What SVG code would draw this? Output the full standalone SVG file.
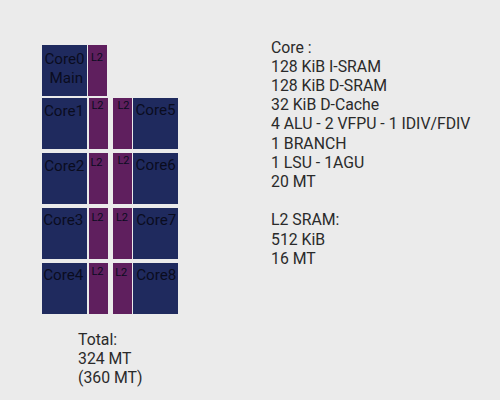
<svg xmlns="http://www.w3.org/2000/svg" width="500" height="400" viewBox="0 0 500 400">
<style>
.core{fill:#1f2a5e}
.l2{fill:#5f1f5e}
.cl{font-family:Roboto,"Liberation Sans",sans-serif;font-size:15.2px;fill:#0a0c1e;text-anchor:middle}
.ll{font-family:Roboto,"Liberation Sans",sans-serif;font-size:11px;fill:#0a0c1e;text-anchor:middle}
.info{font-family:Roboto,"Liberation Sans",sans-serif;font-size:15.8px;fill:#2a2a2a}
</style>
<rect width="500" height="400" fill="#ebebeb"/>
<g id="core0"><rect class="core" x="42" y="45" width="45" height="51"/><text class="cl" x="64.5" y="64">Core0</text><text class="cl" x="66.4" y="83">Main</text></g>
<g id="l2-0"><rect class="l2" x="88" y="45" width="19" height="51"/><text class="ll" x="97" y="61">L2</text></g>
<g id="core1"><rect class="core" x="42" y="98" width="45" height="51"/><text class="cl" x="64" y="116">Core1</text></g>
<g id="l2-1"><rect class="l2" x="89" y="98" width="19" height="51"/><text class="ll" x="97.5" y="109">L2</text></g>
<g id="l2-5"><rect class="l2" x="113" y="98" width="19" height="51"/><text class="ll" x="123.5" y="109">L2</text></g>
<g id="core5"><rect class="core" x="133" y="98" width="45" height="51"/><text class="cl" x="155.5" y="115">Core5</text></g>
<g id="core2"><rect class="core" x="42" y="153" width="45" height="51"/><text class="cl" x="64.3" y="171">Core2</text></g>
<g id="l2-2"><rect class="l2" x="89" y="153" width="19" height="51"/><text class="ll" x="96.5" y="166">L2</text></g>
<g id="l2-6"><rect class="l2" x="113" y="153" width="19" height="51"/><text class="ll" x="123.5" y="164">L2</text></g>
<g id="core6"><rect class="core" x="133" y="153" width="45" height="51"/><text class="cl" x="155.7" y="170">Core6</text></g>
<g id="core3"><rect class="core" x="42" y="208" width="45" height="51"/><text class="cl" x="63.3" y="225">Core3</text></g>
<g id="l2-3"><rect class="l2" x="89" y="208" width="19" height="51"/><text class="ll" x="97.5" y="221">L2</text></g>
<g id="l2-7"><rect class="l2" x="113" y="208" width="19" height="51"/><text class="ll" x="122" y="221">L2</text></g>
<g id="core7"><rect class="core" x="133" y="208" width="45" height="51"/><text class="cl" x="156.3" y="225">Core7</text></g>
<g id="core4"><rect class="core" x="42" y="263" width="45" height="51"/><text class="cl" x="63.3" y="280">Core4</text></g>
<g id="l2-4"><rect class="l2" x="89" y="263" width="19" height="51"/><text class="ll" x="97.5" y="275">L2</text></g>
<g id="l2-8"><rect class="l2" x="113" y="263" width="19" height="51"/><text class="ll" x="121.2" y="275.5">L2</text></g>
<g id="core8"><rect class="core" x="133" y="263" width="45" height="51"/><text class="cl" x="156.3" y="280">Core8</text></g>
<g id="connectors"/>
<g id="specs">
<text class="info" x="271" y="52.5">Core :</text>
<text class="info" x="271" y="71.7">128 KiB I-SRAM</text>
<text class="info" x="271" y="90.9">128 KiB D-SRAM</text>
<text class="info" x="271" y="110.1">32 KiB D-Cache</text>
<text class="info" x="271" y="129.3">4 ALU - 2 VFPU - 1 IDIV/FDIV</text>
<text class="info" x="271" y="148.5">1 BRANCH</text>
<text class="info" x="271" y="167.7">1 LSU - 1AGU</text>
<text class="info" x="271" y="186.9">20 MT</text>
<text class="info" x="271" y="225.3">L2 SRAM:</text>
<text class="info" x="271" y="244.5">512 KiB</text>
<text class="info" x="271" y="263.7">16 MT</text>
</g>
<g id="total">
<text class="info" x="78" y="344.5">Total:</text>
<text class="info" x="78" y="363.7">324 MT</text>
<text class="info" x="78" y="382.9">(360 MT)</text>
</g>
</svg>
